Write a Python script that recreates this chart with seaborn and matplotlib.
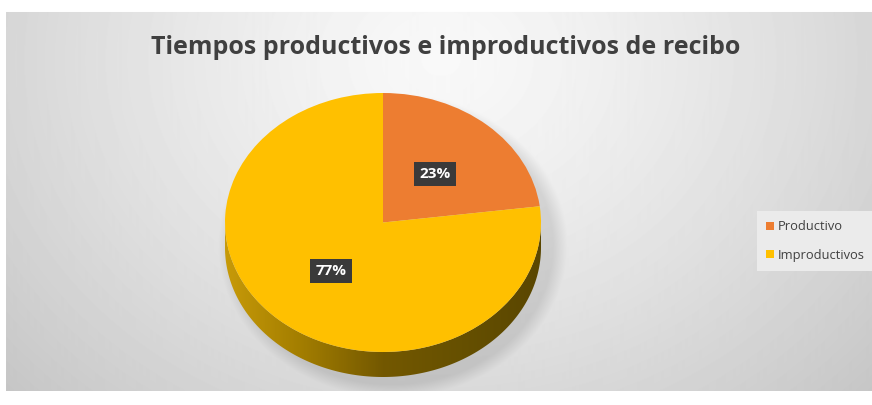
import numpy as np
import matplotlib.pyplot as plt
import seaborn as sns
from matplotlib.path import Path
from matplotlib.patches import PathPatch
from matplotlib.colors import LinearSegmentedColormap

# Datos
categorias = ["Productivo", "Improductivos"]
valores = [23, 77]
colores = ["#ED7D31", "#FFC000"]
titulo = "Tiempos productivos e improductivos de recibo"

sns.set_theme(style="white")
plt.rcParams['font.family'] = ['Open Sans', 'DejaVu Sans']

W, H = 872, 405
fig = plt.figure(figsize=(W / 100, H / 100), dpi=100)

# Fondo con degradado radial (estilo Excel)
ax_bg = fig.add_axes([0, 0, 1, 1])
yy, xx = np.mgrid[0:H, 0:W]
r = np.sqrt(((xx - 440) / 520) ** 2 + ((yy - 60) / 430) ** 2)
fondo = 0.975 - 0.17 * r ** 1.3
# sombra suave del pastel
d = np.sqrt(((xx - 392) / 163) ** 2 + ((yy - 245) / 142) ** 2)
fondo -= 0.10 * np.clip((1.07 - d) / 0.09, 0, 1)
fondo[:12, :] = 1
fondo[391:, :] = 1
fondo[:, :6] = 1
ax_bg.imshow(fondo, cmap="gray", vmin=0, vmax=1, extent=(0, W, H, 0), aspect="auto")
ax_bg.set_xlim(0, W)
ax_bg.set_ylim(H, 0)
ax_bg.axis("off")

# Pastel (cara superior elíptica + lateral 3D)
cx, cy, rx, ry, grosor = 383, 222.5, 158, 129.5, 25
prof = grosor / ry
top_px, bot_px = cy - ry, cy + ry + grosor
ax = fig.add_axes([(cx - rx) / W, (H - bot_px) / H, 2 * rx / W, (bot_px - top_px) / H])

t = np.linspace(np.pi, 2 * np.pi, 200)
verts = np.concatenate([np.c_[np.cos(t), np.sin(t)],
                        np.c_[np.cos(t[::-1]), np.sin(t[::-1]) - prof]])
lateral = PathPatch(Path(verts, closed=True), fc="none", ec="none")
ax.add_patch(lateral)
cmap_lat = LinearSegmentedColormap.from_list(
    "lat", ["#c79a08", "#a17c00", "#735800", "#665000", "#5a4600"])
grad = np.tile(np.linspace(0, 1, 300), (10, 1))
img = ax.imshow(grad, cmap=cmap_lat, extent=(-1, 1, -1 - prof, 0), aspect="auto", zorder=1)
img.set_clip_path(lateral)

wedges, _, autotexts = ax.pie(
    valores, colors=colores, startangle=90, counterclock=False,
    autopct="%1.0f%%", pctdistance=0.5, radius=1,
    wedgeprops=dict(linewidth=0),
    textprops=dict(color="white", fontsize=11, fontweight="bold"),
)
for w in wedges:
    w.set_zorder(2)
for txt in autotexts:
    txt.set_bbox(dict(boxstyle="square,pad=0.35", fc="#3a3a3a", ec="none"))
    txt.set_zorder(5)
ax.set_aspect("auto")
ax.set_xlim(-1, 1)
ax.set_ylim(-1 - prof, 1)
ax.axis("off")

# Título
fig.text(446 / W, 1 - 48 / H, titulo, ha="center", va="center",
         fontsize=18, color="#404040", fontweight="bold")

# Leyenda
leg = fig.legend(wedges, categorias, loc="center left",
                 bbox_to_anchor=(757 / W, 1 - 241 / H),
                 frameon=True, facecolor="#ebebeb", edgecolor="none", framealpha=1,
                 fancybox=False, handlelength=0.6, handleheight=0.6,
                 handletextpad=0.3, labelspacing=1.2, fontsize=9.3,
                 labelcolor="#404040", borderpad=0.7, borderaxespad=0)

fig.savefig("out.png", dpi=100)
